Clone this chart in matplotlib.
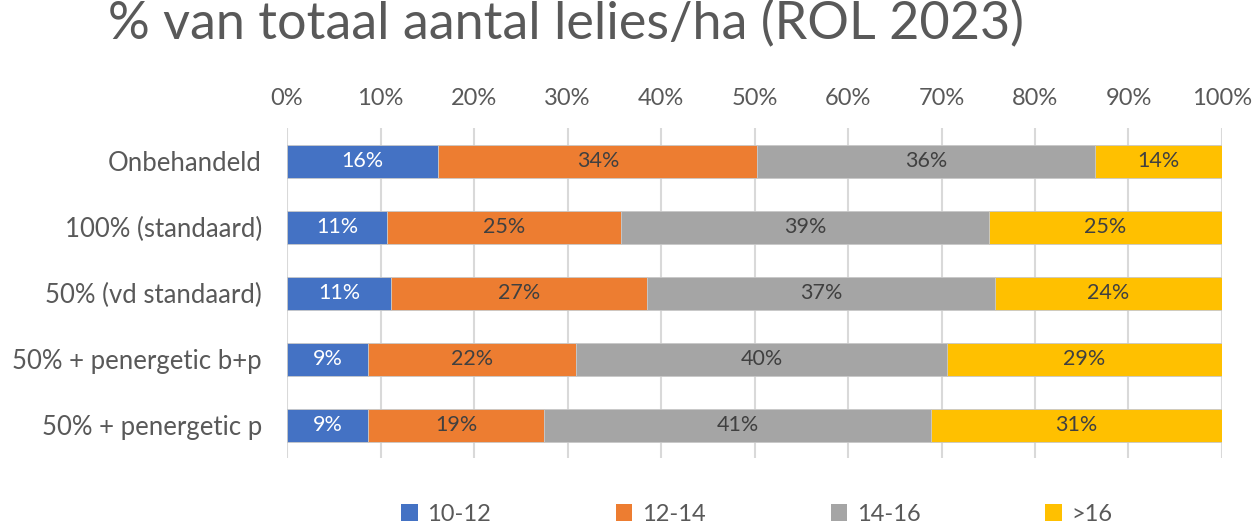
import numpy as np
import matplotlib.pyplot as plt
from matplotlib.patches import Patch

plt.rcParams['font.family'] = ['Lato', 'DejaVu Sans']

categories = ["Onbehandeld", "100% (standaard)", "50% (vd standaard)",
              "50% + penergetic b+p", "50% + penergetic p"]
series = ["10-12", "12-14", "14-16", ">16"]
v_10_12 = [16.2, 10.7, 11.1, 8.7, 8.7]
v_12_14 = [34.1, 25.0, 27.4, 22.2, 18.8]
v_14_16 = [36.1, 39.4, 37.2, 39.7, 41.4]
v_16 = [13.6, 24.9, 24.3, 29.4, 31.1]
colors = ["#4472C4", "#ED7D31", "#A5A5A5", "#FFC000"]
label_colors = ["white", "#404040", "#404040", "#404040"]

fig = plt.figure(figsize=(12.55, 5.29), dpi=100)
ax = fig.add_axes([0.2287, 0.134, 0.745, 0.624])

y = np.arange(len(categories))
left = np.zeros(len(categories))
for vals, col, lc in zip([v_10_12, v_12_14, v_14_16, v_16], colors, label_colors):
    vals = np.array(vals)
    ax.barh(y, vals, left=left, height=0.5, color=col,
            edgecolor="#c8c8c8", linewidth=0.6, zorder=3)
    for yi, l, v in zip(y, left, vals):
        ax.text(l + v / 2, yi, f"{round(v):.0f}%", ha="center", va="center",
                color=lc, fontsize=15.5, zorder=4)
    left += vals

ax.set_xlim(0, 100)
ax.set_ylim(4.5, -0.5)
ax.set_xticks(np.arange(0, 101, 10))
ax.set_xticklabels([f"{t}%" for t in range(0, 101, 10)])
ax.xaxis.tick_top()
ax.tick_params(axis="x", length=0, pad=14, labelsize=17, labelcolor="#595959")
ax.set_yticks(y)
ax.set_yticklabels(categories)
ax.tick_params(axis="y", length=0, pad=18, labelsize=18.5, labelcolor="#595959")
ax.grid(axis="x", color="#d9d9d9", linewidth=1.5, zorder=0)
for s in ax.spines.values():
    s.set_visible(False)

fig.suptitle("% van totaal aantal lelies/ha (ROL 2023)", x=0.451, y=1.0,
             fontsize=37.5, color="#595959")

handles = [Patch(facecolor=c, edgecolor="none") for c in colors]
fig.legend(handles, series, loc="center", bbox_to_anchor=(0.603, 0.028), ncol=4,
           frameon=False, fontsize=17, labelcolor="#595959",
           handlelength=0.7, handleheight=0.7, handletextpad=0.4, columnspacing=5.3)

fig.savefig("out.png", dpi=100)
